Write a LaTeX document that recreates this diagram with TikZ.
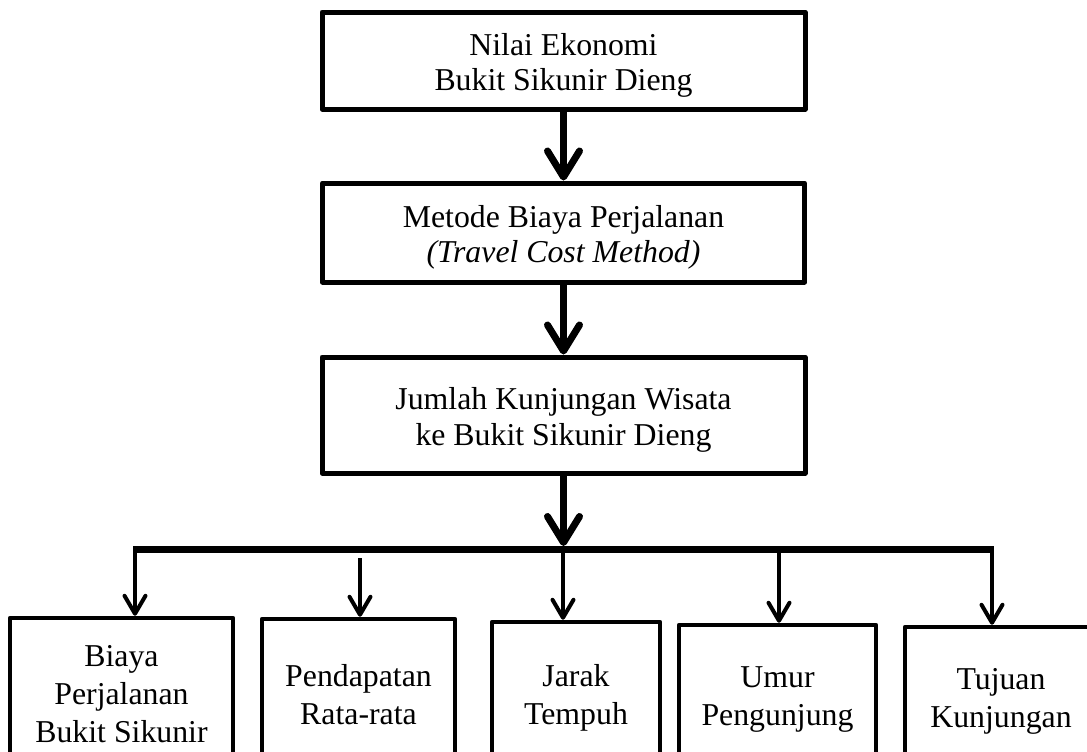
\documentclass[tikz,border=0pt]{standalone}
\usepackage{fontspec}
\setmainfont{Liberation Serif}
\usetikzlibrary{arrows.meta}
\tikzset{
  topbox/.style={draw, line width=2.5pt, line join=round, inner sep=0pt},
  toptext/.style={inner sep=0pt, align=center, font=\fontsize{15.9}{17.8}\selectfont},
  botbox/.style={draw, line width=2.25pt, line join=round, inner sep=0pt, align=center,
    font=\fontsize{15.9}{19}\selectfont},
  bigarr/.style={line width=3.5pt, -{Straight Barb[length=13pt,width=16pt,round]}},
  smallarr/.style={line width=2pt, -{Straight Barb[length=9pt,width=10.5pt,round]}},
  barline/.style={line width=3.5pt}
}
\begin{document}
\begin{tikzpicture}[x=0.5pt,y=-0.5pt]
\useasboundingbox (0,0) rectangle (1087,751);
\clip (0,0) rectangle (1087,751);
% top chain
\node[topbox, minimum width=241.5pt, minimum height=48.5pt] (n1) at (563.5,60.5) {};
\node[toptext] (t1) at ([yshift=-2.5pt]n1.center) {Nilai Ekonomi\\Bukit Sikunir Dieng};
\node[topbox, minimum width=241pt, minimum height=49.5pt] (n2) at (563.5,232.5) {};
\node[toptext] (t2) at ([yshift=-2.5pt]n2.center) {Metode Biaya Perjalanan\\\textit{(Travel Cost Method)}};
\node[topbox, minimum width=241.5pt, minimum height=58pt] (n3) at (563.5,415) {};
\node[toptext] (t3) at ([yshift=-2.5pt]n3.center) {Jumlah Kunjungan Wisata\\ke Bukit Sikunir Dieng};
% bottom boxes
\node[botbox, minimum width=111.5pt, minimum height=76pt] (b1) at (121.5,694) {Biaya\\Perjalanan\\Bukit Sikunir};
\node[botbox, minimum width=96.5pt, minimum height=75.5pt] (b2) at (358.5,694.5) {Pendapatan\\Rata-rata};
\node[botbox, minimum width=84pt, minimum height=76pt] (b3) at (576,698) {Jarak\\Tempuh};
\node[botbox, minimum width=98.5pt, minimum height=75pt] (b4) at (777.5,700) {Umur\\Pengunjung};
\node[botbox, minimum width=96pt, minimum height=74pt] (b5) at (1001,701) {Tujuan\\Kunjungan};
% junction points
\coordinate (jin) at (563.5,546);
\coordinate (barL) at (133,549);
\coordinate (barR) at (994,549);
\coordinate (j1) at (135,549);
\coordinate (s2) at (360,558);
\coordinate (j3) at (563,549);
\coordinate (j4) at (779,549);
\coordinate (j5) at (992,549);
% arrows
\draw[bigarr] (n1.south) -- (n2.north);
\draw[bigarr] (n2.south) -- (n3.north);
\draw[bigarr] (n3.south) -- (jin);
\draw[barline] (barL) -- (barR);
\draw[smallarr] (j1) -- (j1 |- b1.north);
\draw[smallarr] (s2) -- (s2 |- b2.north);
\draw[smallarr] (j3) -- (j3 |- b3.north);
\draw[smallarr] (j4) -- (j4 |- b4.north);
\draw[smallarr] (j5) -- (j5 |- b5.north);
\end{tikzpicture}
\end{document}
